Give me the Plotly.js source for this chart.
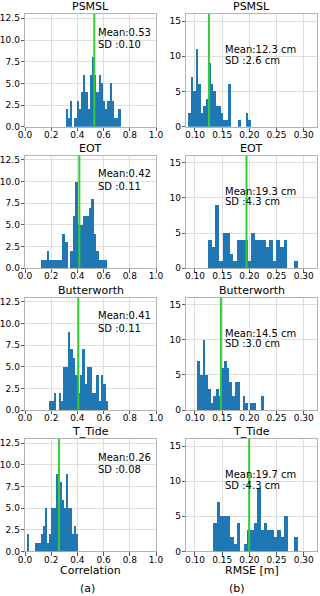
<!DOCTYPE html>
<html>
<head>
<meta charset="utf-8">
<script src="https://cdn.plot.ly/plotly-3.0.1.min.js"></script>
<style>html,body{margin:0;padding:0;background:#fff;}#chart{width:320px;height:596px;}</style>
</head>
<body>
<div id="chart"></div>
<script>
// ---- Data ----
const methods = ["PSMSL", "EOT", "Butterworth", "T_Tide"];

// Correlation histograms (counts per bin), bin range [start, end]
const corrPSMSL  = [2,1,3,0,1,3,2,4,6,4,2,6,8,6,4,6,5,3,2,3,5,3,1,1,2];
const corrEOT    = [1,1,2,1,1,1,1,1,4,3,0,2,6,10,5,5,6,6,7,8,4,2,1,1,1];
const corrButter = [1,1,2,0,2,1,5,5,9,7,6,4,2,4,7,3,5,5,2,2,4,1,4,3,1];
const corrTTide  = [2,0,0,0,1,1,1,2,3,5,1,2,5,5,9,6,8,6,5,9,5,5,2,3,2];
const corrRange  = [[0.31,0.73],[0.125,0.625],[0.185,0.635],[0.015,0.405]];
const corrLine   = [0.529, 0.415, 0.407, 0.26];
const corrMean   = ["0.53", "0.42", "0.41", "0.26"];
const corrSD     = ["0.10", "0.11", "0.11", "0.08"];

// RMSE histograms (counts per bin), bin range [start, end] in metres
const rmsePSMSL  = [2,7,5,11,6,2,3,4,9,6,5,3,3,2,1,1,6,0,0,0,1,0,0,2,1];
const rmseEOT    = [4,3,9,1,5,5,2,1,4,4,4,1,5,4,4,4,3,4,1,4,3,4,0,0,1];
const rmseButter = [7,5,10,5,3,1,2,3,2,6,7,6,4,2,4,4,0,2,1,0,1,1,0,0,2];
const rmseTTide  = [4,7,5,5,5,2,1,4,0,1,3,3,4,9,3,4,3,3,2,3,2,5,0,0,2];
const rmseRange  = [[0.0877,0.2022],[0.1245,0.2896],[0.1043,0.2266],[0.1336,0.289]];
const rmseLine   = [0.1257, 0.1948, 0.1477, 0.1997];
const rmseMean   = ["12.3", "19.3", "14.5", "19.7"];
const rmseSD     = ["2.6", "4.3", "3.0", "4.3"];

const corrTicks = [0.0, 0.2, 0.4, 0.6, 0.8, 1.0];
const rmseTicks = [0.10, 0.15, 0.20, 0.25, 0.30];
const corrYTicks = [0.0, 2.5, 5.0, 7.5, 10.0, 12.5];
const rmseYTicks = [0, 5, 10, 15];

const corrCounts = [corrPSMSL, corrEOT, corrButter, corrTTide];
const rmseCounts = [rmsePSMSL, rmseEOT, rmseButter, rmseTTide];

// ---- Layout geometry ----
const W = 320, H = 596;
const colDom = [[25/W, 156/W], [186/W, 317/W]];
const rowsPx = [[14,126.7],[155.6,268.3],[297.5,410],[439,551.5]];
const FONT = "DejaVu Sans, Liberation Sans, Arial, sans-serif";
const BLUE = "#1f77b4", GREEN = "#32cd32";

function centers(range, n) {
  const w = (range[1]-range[0])/n;
  const c = [];
  for (let i=0;i<n;i++) c.push(range[0] + w*(i+0.5));
  return {c, w};
}

const traces = [], shapes = [], annotations = [];
const layout = {
  width: W, height: H,
  margin: {l:0, r:0, t:0, b:0},
  paper_bgcolor: "#fff", plot_bgcolor: "#fff",
  showlegend: false, bargap: 0,
  font: {family: FONT, size: 9, color: "#000"}
};

for (let r=0; r<4; r++) {
  for (let c=0; c<2; c++) {
    const k = r*2 + c + 1;
    const xa = "x" + (k===1 ? "" : k), ya = "y" + (k===1 ? "" : k);
    const xkey = "xaxis" + (k===1 ? "" : k), ykey = "yaxis" + (k===1 ? "" : k);
    const isCorr = c === 0;
    const counts = isCorr ? corrCounts[r] : rmseCounts[r];
    const rng = isCorr ? corrRange[r] : rmseRange[r];
    const b = centers(rng, counts.length);
    traces.push({type:"bar", x:b.c, y:counts, width:b.w, xaxis:xa, yaxis:ya,
      marker:{color:BLUE, line:{width:0}}, hoverinfo:"skip"});
    const top = rowsPx[r][0], bot = rowsPx[r][1];
    layout[xkey] = {
      domain: colDom[c], anchor: ya,
      range: isCorr ? [0,1] : [0.0835, 0.3245],
      tickmode: "array", tickvals: isCorr ? corrTicks : rmseTicks,
      ticktext: (isCorr ? corrTicks : rmseTicks).map(v => v.toFixed(isCorr?1:2)),
      ticks: "outside", ticklen: 3.5, tickwidth: 0.8, tickcolor: "#333",
      ticklabelstandoff: -4,
      showgrid: true, gridcolor: "#d6d6d6", gridwidth: 0.8,
      showline: true, linecolor: "#a0a0a0", linewidth: 0.8, mirror: true,
      zeroline: false, tickfont: {family: FONT, size: 9, color: "#000"},
      fixedrange: true
    };
    layout[ykey] = {
      domain: [1 - bot/H, 1 - top/H], anchor: xa,
      range: isCorr ? [0,13] : [0,16],
      tickmode: "array", tickvals: isCorr ? corrYTicks : rmseYTicks,
      ticktext: (isCorr ? corrYTicks : rmseYTicks).map(v => isCorr ? v.toFixed(1) : String(v)),
      ticks: "outside", ticklen: 3.5, tickwidth: 0.8, tickcolor: "#333",
      ticklabelstandoff: -1,
      showgrid: true, gridcolor: "#d6d6d6", gridwidth: 0.8,
      showline: true, linecolor: "#a0a0a0", linewidth: 0.8, mirror: true,
      zeroline: false, tickfont: {family: FONT, size: 9, color: "#000"},
      fixedrange: true
    };
    // vertical green line at the marked value
    const lx = isCorr ? corrLine[r] : rmseLine[r];
    shapes.push({type:"line", xref:xa, yref:ya+" domain", x0:lx, x1:lx, y0:0, y1:1,
      line:{color:GREEN, width:2}, layer:"above"});
    // panel title
    annotations.push({text: methods[r], xref: xa+" domain", yref: ya+" domain",
      x:0.5, y:1, xanchor:"center", yanchor:"bottom", showarrow:false, yshift:-1,
      font:{family:FONT, size:11, color:"#000"}});
    // Mean / SD texts
    const mTxt = isCorr ? "Mean:" + corrMean[r] : "Mean:" + rmseMean[r] + " cm";
    const sTxt = isCorr ? "SD :" + corrSD[r] : "SD :" + rmseSD[r] + " cm";
    const tx = isCorr ? 0.542 : 0.285;
    const my = isCorr ? 0.84 : 0.683;
    const sy = isCorr ? 0.725 : 0.59;
    annotations.push({text:mTxt, xref:xa+" domain", yref:ya+" domain", x:tx, y:my,
      xanchor:"left", yanchor:"middle", showarrow:false, font:{family:FONT, size:10, color:"#000"}});
    annotations.push({text:sTxt, xref:xa+" domain", yref:ya+" domain", x:tx, y:sy,
      xanchor:"left", yanchor:"middle", showarrow:false, font:{family:FONT, size:10, color:"#000"}});
  }
}

// bottom axis titles and panel letters
annotations.push({text:"Correlation", xref:"x7 domain", yref:"paper", x:0.5, y:1-570.5/H,
  xanchor:"center", yanchor:"middle", showarrow:false, font:{family:FONT, size:11, color:"#000"}});
annotations.push({text:"RMSE [m]", xref:"x8 domain", yref:"paper", x:0.5, y:1-570.5/H,
  xanchor:"center", yanchor:"middle", showarrow:false, font:{family:FONT, size:11, color:"#000"}});
annotations.push({text:"(a)", xref:"paper", yref:"paper", x:87.5/W, y:1-588.5/H,
  xanchor:"center", yanchor:"middle", showarrow:false, font:{family:FONT, size:11, color:"#000"}});
annotations.push({text:"(b)", xref:"paper", yref:"paper", x:237/W, y:1-588.5/H,
  xanchor:"center", yanchor:"middle", showarrow:false, font:{family:FONT, size:11, color:"#000"}});

layout.shapes = shapes;
layout.annotations = annotations;

Plotly.newPlot("chart", traces, layout, {staticPlot:true, displayModeBar:false});
</script>
</body>
</html>
